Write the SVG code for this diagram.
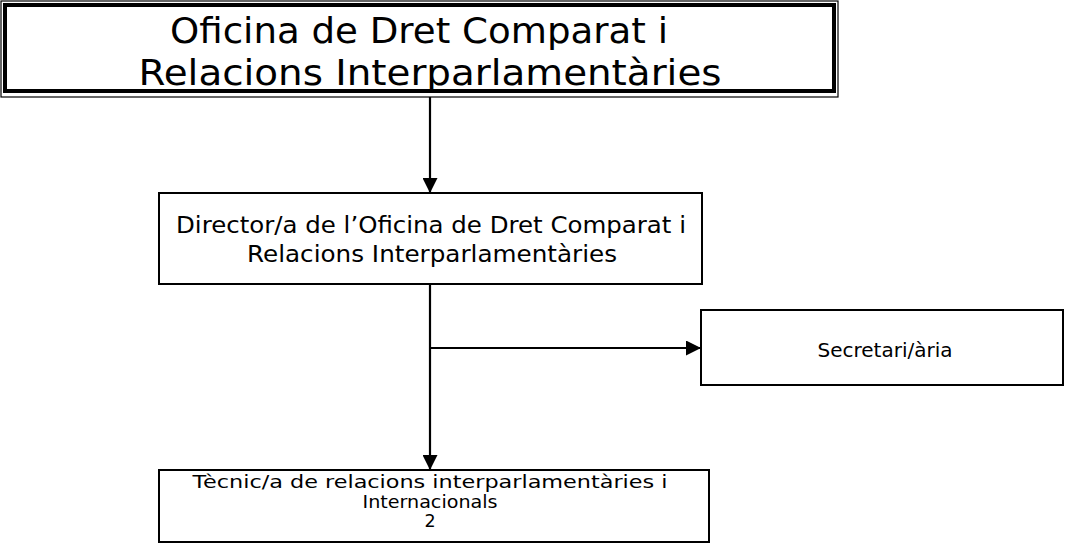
<svg xmlns="http://www.w3.org/2000/svg" width="1066" height="546" viewBox="0 0 1066 546">
<defs>
<style>
text{font-family:"DejaVu Sans","Verdana",sans-serif;fill:#000;text-anchor:middle}
.box{fill:#fff;stroke:#000;stroke-width:2}
.conn{fill:none;stroke:#000;stroke-width:2.2}
</style>
<marker id="ah" viewBox="0 0 15 15" refX="15" refY="7.5" markerWidth="15" markerHeight="15" markerUnits="userSpaceOnUse" orient="auto">
<path d="M0,0 L15,7.5 L0,15 Z" fill="#000"/>
</marker>
</defs>
<rect width="1066" height="546" fill="#fff"/>
<g id="connectors">
<line class="conn" x1="430" y1="97" x2="430" y2="193" marker-end="url(#ah)"/>
<line class="conn" x1="430" y1="284" x2="430" y2="470" marker-end="url(#ah)"/>
<line class="conn" x1="430" y1="348" x2="701" y2="348" marker-end="url(#ah)"/>
</g>
<g id="node-oficina">
<rect x="1" y="1" width="837" height="96" fill="#fff" stroke="#000" stroke-width="1.2"/>
<rect x="5" y="5" width="829" height="86" fill="none" stroke="#000" stroke-width="4"/>
<text x="419" y="43" font-size="35" textLength="498" lengthAdjust="spacingAndGlyphs">Oficina de Dret Comparat i</text>
<text x="430" y="85" font-size="35" textLength="583" lengthAdjust="spacingAndGlyphs">Relacions Interparlamentàries</text>
</g>
<g id="node-director">
<rect class="box" x="159" y="193" width="543" height="91"/>
<text x="431" y="233" font-size="23" textLength="510" lengthAdjust="spacingAndGlyphs">Director/a de l’Oficina de Dret Comparat i</text>
<text x="432" y="262" font-size="23" textLength="370" lengthAdjust="spacingAndGlyphs">Relacions Interparlamentàries</text>
</g>
<g id="node-secretari">
<rect class="box" x="701" y="310" width="362" height="75"/>
<text x="885" y="357" font-size="20">Secretari/ària</text>
</g>
<g id="node-tecnic">
<rect class="box" x="159" y="470" width="550" height="72"/>
<text x="430" y="488" font-size="17.5" textLength="475" lengthAdjust="spacingAndGlyphs">Tècnic/a de relacions interparlamentàries i</text>
<text x="430" y="507.5" font-size="17.5" textLength="135" lengthAdjust="spacingAndGlyphs">Internacionals</text>
<text x="430" y="527" font-size="17.5">2</text>
</g>
</svg>
